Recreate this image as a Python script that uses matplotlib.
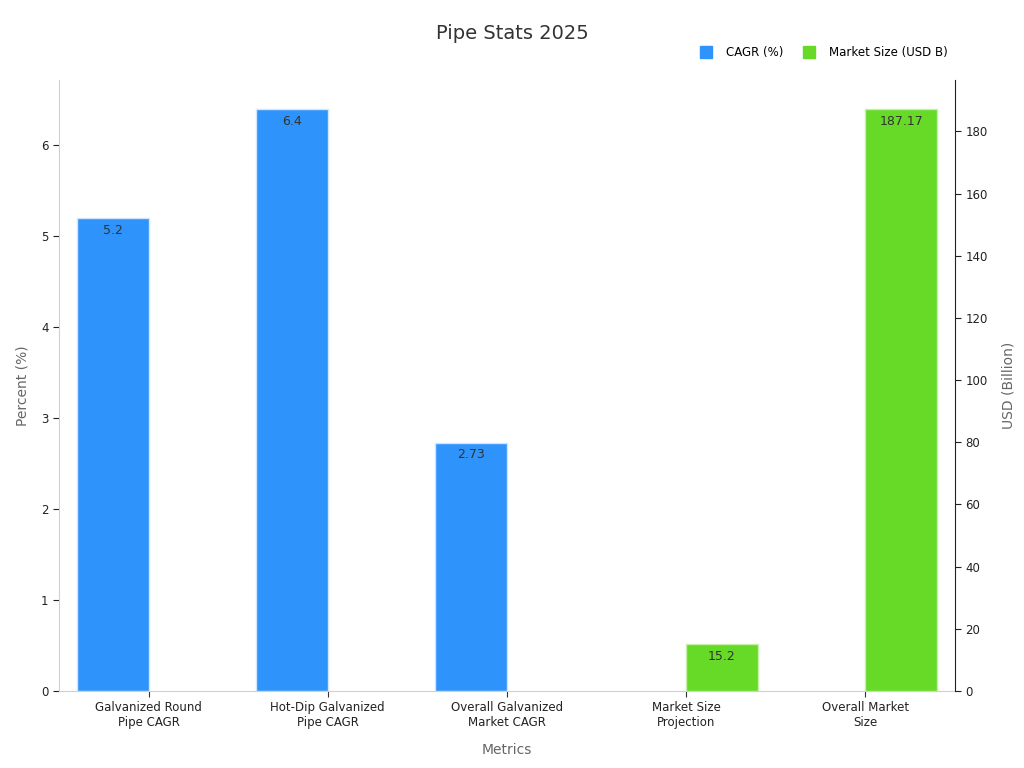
import matplotlib
matplotlib.use("Agg")
import matplotlib.pyplot as plt
import numpy as np
from matplotlib.lines import Line2D

categories = ["Galvanized Round\nPipe CAGR", "Hot-Dip Galvanized\nPipe CAGR",
              "Overall Galvanized\nMarket CAGR", "Market Size\nProjection", "Overall Market\nSize"]
cagr = [5.2, 6.4, 2.73, None, None]
market = [None, None, None, 15.2, 187.17]

blue = "#2E93FA"
green = "#66DA26"

fig = plt.figure(figsize=(10.24, 7.68), dpi=100)
ax = fig.add_axes([0.0576, 0.1003, 0.875, 0.7955])
ax2 = ax.twinx()

x = np.arange(len(categories))
w = 0.4
for i, v in enumerate(cagr):
    if v is not None:
        ax.bar(x[i] - w / 2, v, w, color=blue, edgecolor="#cfe6fd", linewidth=1)
        ax.text(x[i] - w / 2, v - 0.06, f"{v:g}", ha="center", va="top", fontsize=9, color="#333333")
for i, v in enumerate(market):
    if v is not None:
        ax2.bar(x[i] + w / 2, v, w, color=green, edgecolor="#c4f0a8", linewidth=1)
        ax2.text(x[i] + w / 2, v - 1.9, f"{v:g}", ha="center", va="top", fontsize=9, color="#333333")

ax.set_xlim(-0.5, 4.5)
ax.set_ylim(0, 6.4 * 1.05)
ax2.set_ylim(0, 187.17 * 1.05)
ax.set_xticks(x)
ax.set_xticklabels(categories, fontsize=8.5, color="#222222")
ax.set_yticks(range(0, 7))
ax2.set_yticks(range(0, 181, 20))
ax.tick_params(axis="y", labelsize=8.5, colors="#222222", length=4)
ax2.tick_params(axis="y", labelsize=8.5, colors="#222222", length=4)
ax.tick_params(axis="x", length=4, color="#333333")
for a in (ax, ax2):
    a.spines["top"].set_visible(False)
ax.spines["left"].set_color("#d0d0d0")
ax.spines["bottom"].set_color("#d0d0d0")
ax.spines["right"].set_visible(False)
ax2.spines["left"].set_visible(False)
ax2.spines["bottom"].set_visible(False)
ax2.spines["right"].set_color("#222222")

ax.set_xlabel("Metrics", fontsize=10, color="#666666", labelpad=10)
ax.set_ylabel("Percent (%)", fontsize=10, color="#666666", labelpad=8)
ax2.set_ylabel("USD (Billion)", fontsize=10, color="#666666", labelpad=10)

fig.text(0.5, 0.957, "Pipe Stats 2025", ha="center", va="center", fontsize=14, color="#333333")

handles = [Line2D([], [], marker="s", linestyle="", markersize=8, color=blue),
           Line2D([], [], marker="s", linestyle="", markersize=8, color=green)]
fig.legend(handles, ["CAGR (%)", "Market Size (USD B)"], loc="center right",
           bbox_to_anchor=(0.936, 0.931), ncol=2, frameon=False, fontsize=8.5,
           handletextpad=0.7, columnspacing=1.2)

fig.savefig("out.png", dpi=100)
